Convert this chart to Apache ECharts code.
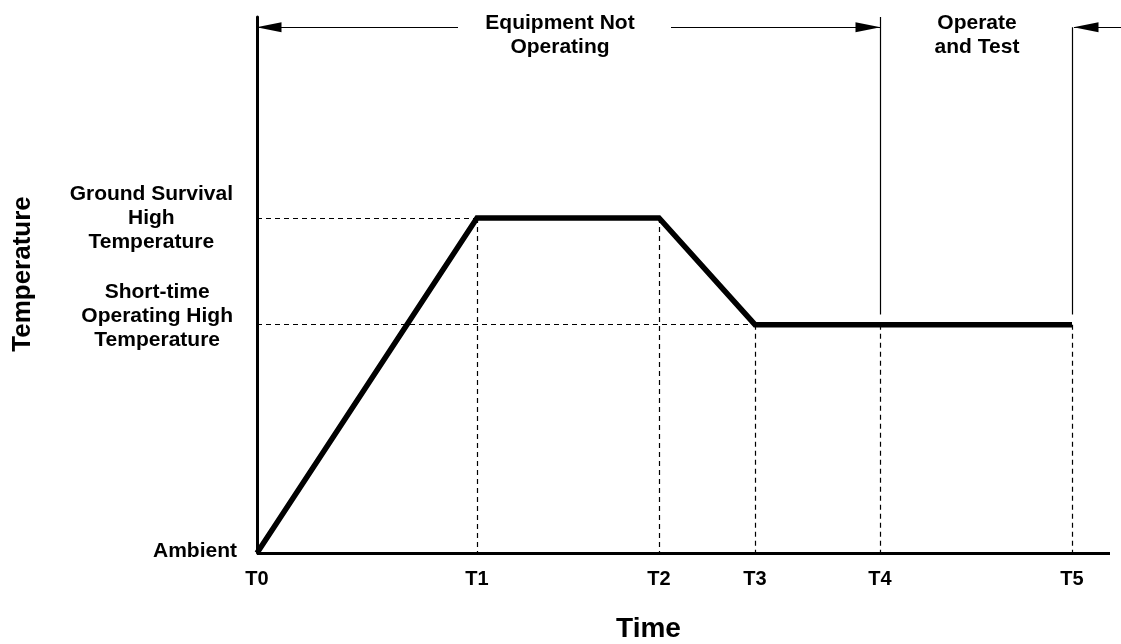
<!DOCTYPE html>
<html>
<head>
<meta charset="utf-8">
<script src="https://cdn.jsdelivr.net/npm/echarts@6/dist/echarts.min.js"></script>
<style>html,body{margin:0;padding:0;background:#fff;}#c{width:1121px;height:644px;}</style>
</head>
<body>
<div id="c"></div>
<script>
// ---- data ----
const timeLabels = ['T0', 'T1', 'T2', 'T3', 'T4', 'T5'];
const timeValues = [0, 220, 402, 498, 623, 815];
const profileTemps = [0, 62.5, 62.5, 42.6, 42.6, 42.6];
const levelLabels = ['Ambient', 'Short-time\nOperating High\nTemperature', 'Ground Survival\nHigh\nTemperature'];
const levelValues = [0, 42.6, 62.5];
const phaseLabels = ['Equipment Not\nOperating', 'Operate\nand Test'];
const phaseLabelX = [303, 720];
const phaseLabelY = 96.6;
const phaseArrowY = 98.1;
const phaseArrows = [[201, 0], [414, 623], [864, 817]]; // [from, to] in time units
const phaseMarkers = [[623, 100], [815, 98.1]];          // [time, top]
const phaseMarkerBottom = 44.5;
const timeAxisEnd = 853;
const timeAxisMax = 864;
const tempMax = 100;

const FONT = "'Liberation Sans', Arial, sans-serif";

// ---- derived ----
const profile = timeValues.map((t, i) => [t, profileTemps[i]]);

const dashed = [];
levelValues.forEach(v => {
  if (v === 0) return;
  const idx = profileTemps.indexOf(v);
  dashed.push([{ coord: [0, v] }, { coord: [timeValues[idx], v] }]);
});
timeValues.forEach((t, i) => {
  if (i === 0) return;
  dashed.push([{ coord: [t, profileTemps[i]] }, { coord: [t, 0] }]);
});

const solidThin = phaseMarkers.map(m => [{ coord: [m[0], m[1]] }, { coord: [m[0], phaseMarkerBottom] }]);
const arrows = phaseArrows.map(a => [
  { coord: [a[0], phaseArrowY], symbol: 'none' },
  { coord: [a[1], phaseArrowY], symbol: 'triangle', symbolSize: [10, 25], symbolOffset: [0, 12] }
]);
const baseline = [[{ coord: [0, 0] }, { coord: [timeAxisEnd, 0] }]];

const labelShift = { 'Ambient': '\n{sa| }', 'Ground Survival\nHigh\nTemperature': '', 'Short-time\nOperating High\nTemperature': '\n{ss| }' };

const chart = echarts.init(document.getElementById('c'), null, { renderer: 'canvas' });
chart.setOption({
  animation: false,
  backgroundColor: '#fff',
  grid: { left: 257, right: 0, top: 17, bottom: 91, containLabel: false, outerBoundsMode: 'none' },
  xAxis: {
    type: 'value', min: 0, max: timeAxisMax,
    axisLine: { show: false }, axisTick: { show: false }, splitLine: { show: false },
    axisLabel: {
      customValues: timeValues,
      formatter: v => timeLabels[timeValues.indexOf(v)] || '',
      margin: 16, color: '#000', fontFamily: FONT, fontWeight: 'bold', fontSize: 20
    },
    name: 'Time', nameLocation: 'middle', nameGap: 62,
    nameTextStyle: { color: '#000', fontFamily: FONT, fontWeight: 'bold', fontSize: 28, lineHeight: 28, padding: [0, 81, 0, 0] }
  },
  yAxis: {
    type: 'value', min: 0, max: tempMax,
    axisLine: { show: true, lineStyle: { color: '#000', width: 3 } },
    axisTick: { show: false }, splitLine: { show: false },
    axisLabel: {
      customValues: levelValues,
      formatter: v => {
        const txt = levelLabels[levelValues.indexOf(v)];
        const lines = txt.split('\n');
        if (lines.length === 1) return '{a|' + txt + '}' + (labelShift[txt] || '');
        return lines.map(l => '{c|' + l + '}').join('\n') + (labelShift[txt] || '');
      },
      margin: 20, align: 'right',
      rich: {
        a: { color: '#000', fontFamily: FONT, fontWeight: 'bold', fontSize: 21, lineHeight: 24 },
        c: { color: '#000', fontFamily: FONT, fontWeight: 'bold', fontSize: 21, lineHeight: 24, align: 'center', padding: [0, 4, 0, 0] },
        sa: { fontSize: 2, lineHeight: 4 },
        ss: { fontSize: 2, lineHeight: 16 }
      }
    },
    name: 'Temperature', nameLocation: 'middle', nameGap: 221,
    nameTextStyle: { color: '#000', fontFamily: FONT, fontWeight: 'bold', fontSize: 26, lineHeight: 26, padding: [0, 0, 0, 22] }
  },
  series: [
    {
      type: 'line', data: [], silent: true,
      markLine: {
        silent: true, symbol: ['none', 'none'], label: { show: false },
        lineStyle: { color: '#000', width: 1.2, type: [5, 4] },
        emphasis: { disabled: true },
        data: dashed
      }
    },
    {
      type: 'line', data: [], silent: true,
      markLine: {
        silent: true, symbol: ['none', 'none'], label: { show: false },
        lineStyle: { color: '#000', width: 1.2, type: 'solid' },
        emphasis: { disabled: true },
        data: solidThin
      }
    },
    {
      type: 'line', data: [], silent: true,
      markLine: {
        silent: true,
        label: { show: false },
        lineStyle: { color: '#000', width: 1.2, type: 'solid', opacity: 1 },
        itemStyle: { color: '#000' },
        emphasis: { disabled: true },
        data: arrows
      }
    },
    {
      type: 'line', data: [], silent: true,
      markLine: {
        silent: true, symbol: ['none', 'none'], label: { show: false },
        lineStyle: { color: '#000', width: 3, type: 'solid' },
        emphasis: { disabled: true },
        data: baseline
      }
    },
    {
      type: 'line', data: profile, silent: true, showSymbol: false, symbol: 'none',
      lineStyle: { color: '#000', width: 5.5, join: 'miter', cap: 'butt' },
      z: 5
    },
    {
      type: 'scatter', silent: true, symbolSize: 0,
      itemStyle: { opacity: 1 },
      data: phaseLabels.map((l, i) => ({ value: [phaseLabelX[i], phaseLabelY], name: l })),
      label: {
        show: true, position: 'inside', formatter: p => p.name, opacity: 1,
        color: '#000', textBorderWidth: 0, fontFamily: FONT, fontWeight: 'bold', fontSize: 21, lineHeight: 24, align: 'center'
      }
    }
  ]
});
</script>
</body>
</html>
